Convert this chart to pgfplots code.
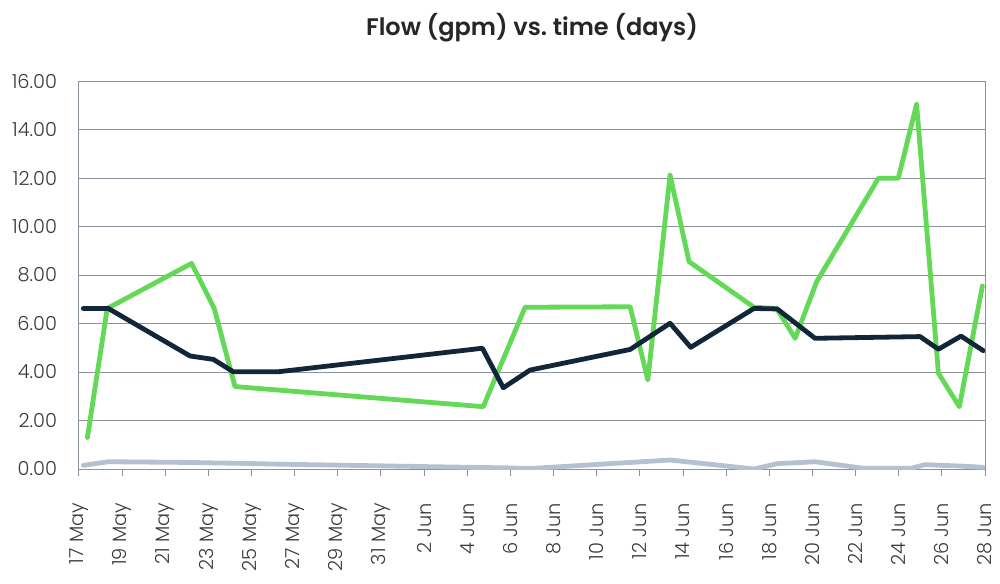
\documentclass[border=0pt]{standalone}
\usepackage{pgfplots}
\pgfplotsset{compat=1.18}
\usepackage{fontspec}
\setmainfont{Poppins}
\newfontfamily\tickfont{Poppins Light}
\newfontfamily\titlefont{Poppins SemiBold}

\definecolor{flowgreen}{HTML}{63D957}
\definecolor{flownavy}{HTML}{12263A}
\definecolor{flowgrey}{HTML}{B3C1D1}
\definecolor{gridgrey}{HTML}{8A939E}
\definecolor{labelgrey}{HTML}{3A3A3A}

% x = days since 17 May
\pgfplotstableread{
x y
0.39 1.30
1.31 6.62
5.22 8.48
6.27 6.62
7.23 3.40
18.74 2.57
20.68 6.67
25.55 6.69
26.37 3.67
27.40 12.12
28.28 8.55
31.29 6.67
32.34 6.62
33.20 5.39
34.20 7.73
37.06 11.99
37.98 11.99
38.83 15.04
39.84 3.95
40.81 2.57
41.88 7.55
}\greendata

\pgfplotstableread{
x y
0.20 6.62
1.36 6.62
5.15 4.66
6.23 4.52
7.15 4.01
9.24 4.01
18.70 4.98
19.67 3.35
20.91 4.08
25.55 4.93
27.40 6.01
28.36 5.02
31.29 6.62
32.37 6.60
34.12 5.39
38.99 5.46
39.84 4.94
40.89 5.48
41.92 4.88
}\navydata

\pgfplotstableread{
x y
0.20 0.15
1.36 0.30
5.15 0.27
6.23 0.25
7.15 0.24
9.24 0.20
18.70 0.06
19.67 0.05
20.91 0.02
25.55 0.27
27.40 0.37
28.36 0.28
31.29 0.00
32.37 0.22
34.12 0.30
36.36 0.03
38.60 0.03
39.22 0.18
40.89 0.12
41.92 0.07
}\greydata

\begin{document}
\begin{tikzpicture}
\useasboundingbox (-59.25pt,-85.5pt) rectangle (690.75pt,351.75pt);
\begin{axis}[
  at={(0,0)}, anchor=south west,
  scale only axis, width=679.5pt, height=291pt,
  xmin=0, xmax=42, ymin=0, ymax=16,
  xtick={0,2,...,42},
  xticklabels={17 May,19 May,21 May,23 May,25 May,27 May,29 May,31 May,2 Jun,4 Jun,6 Jun,8 Jun,10 Jun,12 Jun,14 Jun,16 Jun,18 Jun,20 Jun,22 Jun,24 Jun,26 Jun,28 Jun},
  ytick={0,2,...,16},
  ymajorgrids,
  grid style={gridgrey, line width=0.75pt},
  axis line style={gridgrey, line width=0.75pt},
  tick align=outside,
  xtick pos=bottom,
  major tick length=5pt,
  x tick style={gridgrey, line width=0.75pt},
  y tick style={draw=none},
  tick label style={font=\tickfont\fontsize{14.5}{16}\selectfont, text=labelgrey},
  xticklabel style={rotate=90, anchor=near xticklabel},
  xticklabel shift=17pt,
  yticklabel style={xshift=-8pt},
  /pgf/number format/.cd, fixed, zerofill, precision=2, assume math mode=true, /pgfplots/.cd,
  title={Flow (gpm) vs.\ time (days)},
  title style={font=\titlefont\fontsize{18}{20}\selectfont, text=black!85, anchor=base, at={(0.5,1)}, yshift=28pt},
  every axis plot/.append style={line width=3.6pt, line join=round, line cap=round},
]
\addplot[flowgrey] table[x=x, y=y] {\greydata};
\addplot[flowgreen] table[x=x, y=y] {\greendata};
\addplot[flownavy] table[x=x, y=y] {\navydata};
\end{axis}
\end{tikzpicture}
\end{document}
